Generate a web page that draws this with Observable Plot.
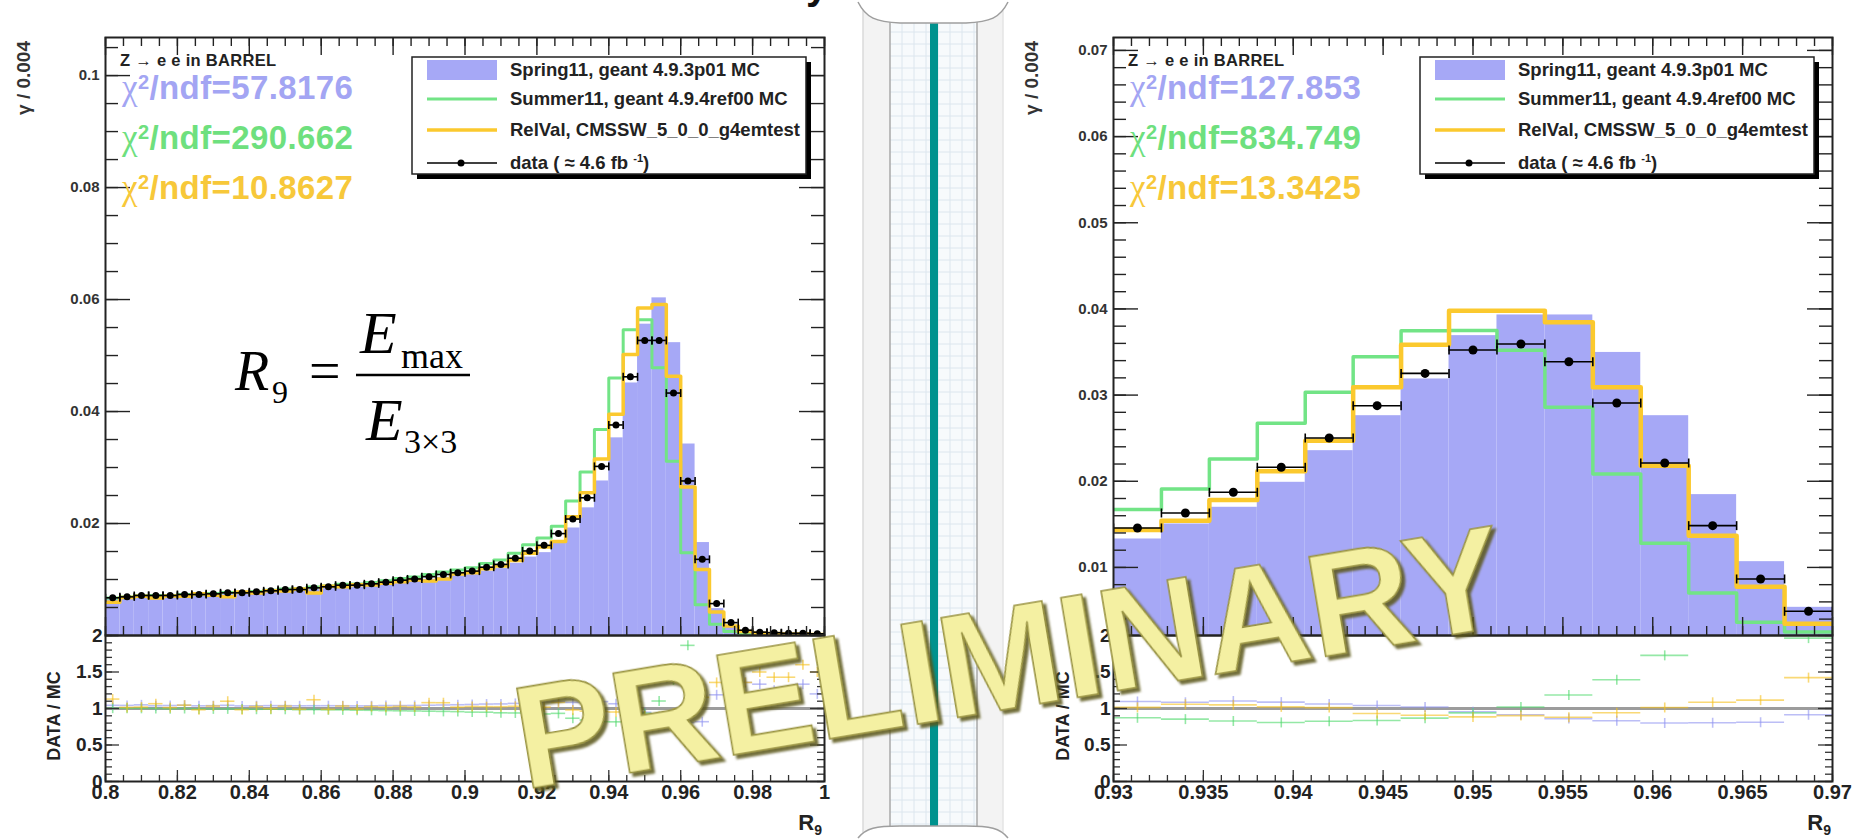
<!DOCTYPE html>
<html>
<head>
<meta charset="utf-8">
<script src="https://cdn.jsdelivr.net/npm/d3@7"></script>
<script src="https://cdn.jsdelivr.net/npm/@observablehq/plot@0.6"></script>
<style>
  html, body { margin: 0; padding: 0; background: #fff; }
  #root { position: relative; width: 1855px; height: 840px; overflow: hidden; background: #fff; }
  #root > svg { position: absolute; }
</style>
</head>
<body>
<div id="root"></div>
<script>
// ---------------- data ----------------
// Left: R9 from 0.8 to 1.0, 50 bins of 0.004
const leftRange = [0.8, 1.0];
const leftData = [0.00673,0.00690,0.00714,0.00714,0.00714,0.00732,0.00732,0.00744,0.00762,0.00762,
  0.00780,0.00798,0.00821,0.00821,0.00851,0.00870,0.00899,0.00899,0.00923,0.00952,
  0.00988,0.01010,0.01050,0.01090,0.01120,0.01150,0.01220,0.01270,0.01380,0.01510,
  0.01610,0.01820,0.02080,0.02460,0.03020,0.03760,0.04620,0.05270,0.05270,0.04330,
  0.02760,0.01360,0.00570,0.00230,0.00095,0.00060,0.00050,0.00040,0.00040,0.00030];
const leftSpring = [0.00645,0.00662,0.00680,0.00688,0.00686,0.00700,0.00706,0.00716,0.00730,0.00736,
  0.00752,0.00768,0.00790,0.00792,0.00820,0.00838,0.00866,0.00868,0.00890,0.00915,
  0.00950,0.00970,0.01005,0.01040,0.01065,0.01090,0.01150,0.01195,0.01290,0.01400,
  0.01480,0.01660,0.01920,0.02280,0.02760,0.03530,0.04510,0.05560,0.06030,0.05230,
  0.03420,0.01660,0.00480,0.00150,0.00070,0.00045,0.00040,0.00035,0.00030,0.00025];
const leftSummer = [0.00670,0.00688,0.00712,0.00714,0.00716,0.00732,0.00736,0.00748,0.00766,0.00768,
  0.00788,0.00806,0.00830,0.00834,0.00864,0.00886,0.00916,0.00920,0.00946,0.00980,
  0.01020,0.01045,0.01090,0.01135,0.01170,0.01210,0.01285,0.01350,0.01470,0.01620,
  0.01740,0.01950,0.02400,0.02920,0.03680,0.04600,0.05460,0.05640,0.04780,0.03110,
  0.01480,0.00550,0.00200,0.00070,0.00030,0.00020,0.00015,0.00012,0.00010,0.00008];
const leftRelval = [0.00596,0.00680,0.00700,0.00670,0.00705,0.00700,0.00745,0.00720,0.00693,0.00775,
  0.00760,0.00800,0.00795,0.00830,0.00760,0.00880,0.00870,0.00905,0.00900,0.00935,
  0.00960,0.00990,0.00972,0.01010,0.01100,0.01120,0.01190,0.01240,0.01340,0.01470,
  0.01580,0.01680,0.02120,0.02550,0.03150,0.03950,0.05020,0.05850,0.05910,0.04630,
  0.02650,0.01180,0.00420,0.00170,0.00070,0.00040,0.00035,0.00028,0.00025,0.00020];

// Right: R9 from 0.93 to 0.97, 15 bins
const rightRange = [0.93, 0.97];
const rightData   = [0.01458,0.01632,0.01872,0.02162,0.02502,0.02877,0.03252,0.03523,0.03593,0.03387,0.02908,0.02212,0.01485,0.00866,0.00491];
const rightSpring = [0.01330,0.01504,0.01698,0.01988,0.02355,0.02761,0.03187,0.03690,0.03930,0.03930,0.03495,0.02761,0.01845,0.01067,0.00537];
const rightSummer = [0.01671,0.01910,0.02258,0.02672,0.03032,0.03445,0.03747,0.03750,0.03520,0.02858,0.02085,0.01280,0.00704,0.00363,0.00250];
const rightRelval = [0.01435,0.01543,0.01783,0.02115,0.02471,0.03090,0.03585,0.03980,0.03980,0.03844,0.03090,0.02181,0.01369,0.00777,0.00345];

const legendLabels = ["Spring11, geant 4.9.3p01 MC", "Summer11, geant 4.9.4ref00 MC", "RelVal, CMSSW_5_0_0_g4emtest", "data ( \u2248 4.6 fb"];
const chi2Left  = ["57.8176", "290.662", "10.8627"];
const chi2Right = ["127.853", "834.749", "13.3425"];
const channelText = "Z \u2192 e e in BARREL";
const yTitle = "\u03B3 / 0.004";
const ratioTitle = "DATA / MC";
const watermarkText = "PRELIMINARY";
const headerFragment = "ying";

const leftYTicks  = [0.02, 0.04, 0.06, 0.08, 0.1];
const leftXTicks  = [0.8, 0.82, 0.84, 0.86, 0.88, 0.9, 0.92, 0.94, 0.96, 0.98, 1];
const rightYTicks = [0.01, 0.02, 0.03, 0.04, 0.05, 0.06, 0.07];
const rightXTicks = [0.93, 0.935, 0.94, 0.945, 0.95, 0.955, 0.96, 0.965, 0.97];
const ratioYTicks = [0, 0.5, 1, 1.5, 2];

// ---------------- helpers ----------------
const FONT = "'Liberation Sans', Arial, Helvetica, sans-serif";
const COL = {blue: "#a6a8f6", green: "#72e486", orange: "#fbc92e"};
const TXT = {blue: "#a3a5f3", green: "#6ee07e", orange: "#f7c83a"};
const vbar = {draw(ctx, size) { const r = Math.sqrt(size / Math.PI); ctx.moveTo(0, -r); ctx.lineTo(0, r); }};
const fmt = d => String(+d.toFixed(4));
const evenTicks = (a, b, step) => d3.range(Math.round((b - a) / step) + 1).map(i => +(a + i * step).toFixed(6));
const inDom = (arr, dom) => arr.filter(v => v >= dom[0] - 1e-9 && v <= dom[1] + 1e-9);

function binsOf(range, vals) {
  const w = (range[1] - range[0]) / vals.length;
  return vals.map((v, i) => ({x1: range[0] + i * w, x2: range[0] + (i + 1) * w, xc: range[0] + (i + 0.5) * w, v}));
}
function stepsOf(range, vals) {
  const w = (range[1] - range[0]) / vals.length;
  const pts = vals.map((v, i) => ({x: range[0] + i * w, y: v}));
  pts.push({x: range[1], y: vals[vals.length - 1]});
  return pts;
}
const plotStyle = {background: "transparent", overflow: "visible", fontFamily: FONT, color: "#222", maxWidth: "none"};

function upperPanel(o) {
  const pw = o.width - o.mL - o.mR, ph = o.height - o.mT - o.mB;
  const D = binsOf(o.range, o.data);
  const tk = {stroke: "#222", strokeWidth: 1.4};
  return Plot.plot({
    width: o.width, height: o.height,
    marginLeft: o.mL, marginRight: o.mR, marginTop: o.mT, marginBottom: o.mB,
    x: {domain: o.range, axis: null},
    y: {domain: o.yDomain},
    style: plotStyle,
    marks: [
      Plot.rect(binsOf(o.range, o.spring), {x1: "x1", x2: "x2", y1: o.yDomain[0], y2: "v", fill: COL.blue, clip: true}),
      Plot.line(stepsOf(o.range, o.summer), {x: "x", y: "y", curve: "step-after", stroke: COL.green, strokeWidth: o.lwG, clip: true}),
      Plot.line(stepsOf(o.range, o.relval), {x: "x", y: "y", curve: "step-after", stroke: COL.orange, strokeWidth: o.lwO, clip: true}),
      Plot.ruleY(D, {x1: "x1", x2: "x2", y: "v", stroke: "#000", strokeWidth: 1.6, clip: true}),
      Plot.dot(D, {x: "x1", y: "v", symbol: vbar, r: o.capR, stroke: "#000", strokeWidth: 1.6, fill: "none", clip: true}),
      Plot.dot(D, {x: "x2", y: "v", symbol: vbar, r: o.capR, stroke: "#000", strokeWidth: 1.6, fill: "none", clip: true}),
      Plot.dot(D, {x: "xc", y: "v", r: o.dotR, fill: "#000", stroke: "none", clip: true}),
      Plot.tickX(o.xMinor, {x: d => d, insetTop: ph - 9, ...tk}),
      Plot.tickX(o.xMajor, {x: d => d, insetTop: ph - 18, ...tk}),
      Plot.tickX(o.xMinor, {x: d => d, insetBottom: ph - 9, ...tk}),
      Plot.tickX(o.xMajor, {x: d => d, insetBottom: ph - 18, ...tk}),
      Plot.tickY(o.yMinor, {y: d => d, insetRight: pw - 13, ...tk}),
      Plot.tickY(o.yMajor, {y: d => d, insetRight: pw - 25, ...tk}),
      Plot.tickY(o.yMinor, {y: d => d, insetLeft: pw - 13, ...tk}),
      Plot.tickY(o.yMajor, {y: d => d, insetLeft: pw - 25, ...tk}),
      Plot.axisY(o.yMajor, {anchor: "left", tickSize: 0, tickPadding: 6, tickFormat: fmt, fontSize: 15, fontWeight: "bold", fill: "#333", label: null}),
      Plot.frame({stroke: "#222", strokeWidth: 2})
    ]
  });
}

function ratioPanel(o) {
  const pw = o.width - o.mL - o.mR, ph = o.height - o.mT - o.mB;
  const tk = {stroke: "#333", strokeWidth: 1.3};
  const marks = [Plot.ruleY([1], {stroke: "#9c9c9c", strokeWidth: 3})];
  o.series.forEach(s => {
    const R = binsOf(o.range, o.data.map((d, i) => d / s.vals[i]));
    marks.push(Plot.ruleY(R, {x1: "x1", x2: "x2", y: "v", stroke: s.color, strokeWidth: 1.6, strokeOpacity: 0.6, clip: true}));
    marks.push(Plot.dot(R, {x: "xc", y: "v", symbol: vbar, r: o.crossR, stroke: s.color, strokeWidth: 1.6, strokeOpacity: 0.6, fill: "none", clip: true}));
  });
  const yMinor = evenTicks(0, 2, 0.1);
  marks.push(
    Plot.tickX(o.xMinor, {x: d => d, insetTop: ph - 6, ...tk}),
    Plot.tickX(o.xMajor, {x: d => d, insetTop: ph - 11, ...tk}),
    Plot.tickY(yMinor, {y: d => d, insetRight: pw - 7, ...tk}),
    Plot.tickY(ratioYTicks, {y: d => d, insetRight: pw - 14, ...tk}),
    Plot.tickY(yMinor, {y: d => d, insetLeft: pw - 7, ...tk}),
    Plot.tickY(ratioYTicks, {y: d => d, insetLeft: pw - 14, ...tk}),
    Plot.axisY(ratioYTicks, {anchor: "left", tickSize: 0, tickPadding: 3, tickFormat: fmt, fontSize: 19, fontWeight: "bold", fill: "#222", label: null}),
    Plot.axisX(o.xMajor, {anchor: "bottom", tickSize: 0, tickPadding: 3, tickFormat: fmt, fontSize: 20, fontWeight: "bold", fill: "#222", label: null}),
    Plot.frame({stroke: "#222", strokeWidth: 2})
  );
  return Plot.plot({
    width: o.width, height: o.height,
    marginLeft: o.mL, marginRight: o.mR, marginTop: o.mT, marginBottom: o.mB,
    x: {domain: o.range}, y: {domain: [0, 2]},
    style: plotStyle,
    marks
  });
}

const root = document.getElementById("root");
function place(node, left, top) { node.style.left = left + "px"; node.style.top = top + "px"; root.appendChild(node); }

// ---------------- panels ----------------
const leftYDom = [0, 0.1068];
place(upperPanel({
  width: 830, height: 640, mL: 105, mR: 6, mT: 37, mB: 5,
  range: leftRange, yDomain: leftYDom,
  data: leftData, spring: leftSpring, summer: leftSummer, relval: leftRelval,
  xMajor: leftXTicks, xMinor: evenTicks(0.8, 1.0, 0.005),
  yMajor: leftYTicks, yMinor: inDom(evenTicks(0, 0.105, 0.005), leftYDom),
  lwG: 3, lwO: 3.5, dotR: 3.5, capR: 4
}), 0, 0);

const rightYDom = [0.0021, 0.0715];
place(upperPanel({
  width: 840, height: 640, mL: 113, mR: 8, mT: 37, mB: 5,
  range: rightRange, yDomain: rightYDom,
  data: rightData, spring: rightSpring, summer: rightSummer, relval: rightRelval,
  xMajor: rightXTicks, xMinor: evenTicks(0.93, 0.97, 0.001),
  yMajor: rightYTicks, yMinor: inDom(evenTicks(0, 0.072, 0.002), rightYDom),
  lwG: 3.5, lwO: 4.5, dotR: 4.5, capR: 4.5
}), 1000, 0);

const mcSeries = (a, b, c) => [{vals: a, color: "#8f93f0"}, {vals: b, color: "#4fd86a"}, {vals: c, color: "#f5bf1a"}];
place(ratioPanel({
  width: 830, height: 200, mL: 105, mR: 6, mT: 0, mB: 54,
  range: leftRange, data: leftData, series: mcSeries(leftSpring, leftSummer, leftRelval),
  xMajor: leftXTicks, xMinor: evenTicks(0.8, 1.0, 0.005), crossR: 5
}), 0, 635);
place(ratioPanel({
  width: 840, height: 200, mL: 113, mR: 8, mT: 0, mB: 54,
  range: rightRange, data: rightData, series: mcSeries(rightSpring, rightSummer, rightRelval),
  xMajor: rightXTicks, xMinor: evenTicks(0.93, 0.97, 0.001), crossR: 5
}), 1000, 635);

// ---------------- overlay: binding, labels, legends, watermark ----------------
const ov = d3.create("svg").attr("width", 1855).attr("height", 840)
  .style("left", "0px").style("top", "0px").style("pointer-events", "none")
  .attr("font-family", FONT);
const defs = ov.append("defs");
const f = defs.append("filter").attr("id", "wm").attr("x", "-10%").attr("y", "-10%").attr("width", "120%").attr("height", "130%");
f.append("feDropShadow").attr("dx", 3).attr("dy", 4).attr("stdDeviation", 1.3).attr("flood-color", "#5a5616").attr("flood-opacity", 0.85);

// cut-off header fragment at the very top (only its descenders are on the page)
ov.append("text").attr("x", 806).attr("y", -1).attr("font-size", 40).attr("font-weight", "bold").attr("fill", "#111").text(headerFragment);

// notebook binding between the two figures
const bg = ov.append("g");
bg.append("rect").attr("x", 863).attr("y", 0).attr("width", 140).attr("height", 840).attr("fill", "#f3f3f3");
bg.append("rect").attr("x", 890).attr("y", 0).attr("width", 87).attr("height", 840).attr("fill", "#f7fafc");
for (let x = 902; x < 977; x += 12) bg.append("line").attr("x1", x).attr("x2", x).attr("y1", 0).attr("y2", 840).attr("stroke", "#dce6ee").attr("stroke-width", 1);
for (let y = 8; y < 840; y += 12) bg.append("line").attr("x1", 890).attr("x2", 977).attr("y1", y).attr("y2", y).attr("stroke", "#dce6ee").attr("stroke-width", 1);
[[863, "#dadada", 1.5], [890, "#a8a8a8", 1.5], [977, "#a8a8a8", 1.5], [1003, "#e4e4e4", 1.5]].forEach(([x, c, w]) =>
  bg.append("line").attr("x1", x).attr("x2", x).attr("y1", 0).attr("y2", 840).attr("stroke", c).attr("stroke-width", w));
bg.append("rect").attr("x", 930).attr("y", 6).attr("width", 8).attr("height", 834).attr("fill", "#00928e");
bg.append("path").attr("d", "M858,0 L1008,0 L1008,2 C1000,18 990,22 966,23 L900,23 C876,22 866,18 858,2 Z").attr("fill", "#fff");
bg.append("path").attr("d", "M858,2 C866,18 876,22 900,23 L966,23 C990,22 1000,18 1008,2").attr("fill", "none").attr("stroke", "#9e9e9e").attr("stroke-width", 1.5);
bg.append("path").attr("d", "M858,840 L1008,840 L1008,838 C1000,828 990,826 966,826 L900,826 C876,826 866,828 858,838 Z").attr("fill", "#fff");
bg.append("path").attr("d", "M858,838 C866,828 876,826 900,826 L966,826 C990,826 1000,828 1008,838").attr("fill", "none").attr("stroke", "#9e9e9e").attr("stroke-width", 1.5);

function panelTexts(fx, yTitleX, ratioTitleX, chi2, legendX, r9X) {
  // y titles
  ov.append("text").attr("transform", `translate(${yTitleX},78) rotate(-90)`).attr("text-anchor", "middle").attr("dominant-baseline", "central")
    .attr("font-size", 19).attr("font-weight", "bold").attr("fill", "#333").text(yTitle);
  ov.append("text").attr("transform", `translate(${ratioTitleX},716) rotate(-90)`).attr("text-anchor", "middle").attr("dominant-baseline", "central")
    .attr("font-size", 18).attr("font-weight", "bold").attr("fill", "#222").text(ratioTitle);
  // R9 axis title
  const r9 = ov.append("text").attr("x", r9X).attr("y", 830).attr("text-anchor", "end").attr("font-size", 22).attr("font-weight", "bold").attr("fill", "#222");
  r9.append("tspan").text("R");
  r9.append("tspan").attr("font-size", 14).attr("dy", 5).text("9");
  // channel label
  ov.append("text").attr("x", fx + 15).attr("y", 66).attr("font-size", 16.5).attr("font-weight", "bold").attr("letter-spacing", 0.3).attr("fill", "#222").text(channelText);
  // chi2 lines
  [TXT.blue, TXT.green, TXT.orange].forEach((c, i) => {
    const t = ov.append("text").attr("x", fx + 17).attr("y", 99 + 50 * i).attr("font-size", 33).attr("font-weight", "bold").attr("letter-spacing", 0.4).attr("fill", c);
    t.append("tspan").attr("font-family", "'Liberation Serif', serif").attr("font-weight", "normal").attr("font-size", 35).text("\u03C7");
    t.append("tspan").attr("font-size", 20).attr("dy", -10).text("2");
    t.append("tspan").attr("dy", 10).text("/ndf=" + chi2[i]);
  });
  // legend box
  const lg = ov.append("g").attr("transform", `translate(${legendX},57)`);
  lg.append("rect").attr("x", 5).attr("y", 5).attr("width", 394).attr("height", 117).attr("fill", "#000");
  lg.append("rect").attr("x", 0).attr("y", 0).attr("width", 394).attr("height", 117).attr("fill", "#fff").attr("stroke", "#222").attr("stroke-width", 1.5);
  lg.append("rect").attr("x", 15).attr("y", 3).attr("width", 70).attr("height", 20).attr("fill", COL.blue);
  lg.append("line").attr("x1", 15).attr("x2", 85).attr("y1", 42).attr("y2", 42).attr("stroke", COL.green).attr("stroke-width", 3);
  lg.append("line").attr("x1", 15).attr("x2", 85).attr("y1", 73).attr("y2", 73).attr("stroke", COL.orange).attr("stroke-width", 3.5);
  lg.append("line").attr("x1", 15).attr("x2", 85).attr("y1", 106).attr("y2", 106).attr("stroke", "#000").attr("stroke-width", 1.5);
  lg.append("circle").attr("cx", 49).attr("cy", 106).attr("r", 3.5).attr("fill", "#000");
  [13, 42, 73].forEach((y, i) => lg.append("text").attr("x", 98).attr("y", y + 6).attr("font-size", 18.5).attr("font-weight", "bold").attr("fill", "#222").text(legendLabels[i]));
  const dt = lg.append("text").attr("x", 98).attr("y", 112).attr("font-size", 18.5).attr("font-weight", "bold").attr("fill", "#222");
  dt.append("tspan").text(legendLabels[3] + " ");
  dt.append("tspan").attr("font-size", 11).attr("dy", -7).text("-1");
  dt.append("tspan").attr("dy", 7).text(")");
}
panelTexts(105, 23, 54, chi2Left, 412, 822);
panelTexts(1113, 1031, 1063, chi2Right, 1420, 1831);

// R9 definition
const fm = ov.append("g").attr("font-family", "'Liberation Serif', 'Times New Roman', serif").attr("fill", "#000");
fm.append("text").attr("x", 235).attr("y", 390).attr("font-size", 56).attr("font-style", "italic").text("R");
fm.append("text").attr("x", 272).attr("y", 403).attr("font-size", 32).text("9");
fm.append("text").attr("x", 309).attr("y", 390).attr("font-size", 56).text("=");
fm.append("line").attr("x1", 356).attr("x2", 470).attr("y1", 375).attr("y2", 375).attr("stroke", "#000").attr("stroke-width", 2.5);
fm.append("text").attr("x", 360).attr("y", 353).attr("font-size", 60).attr("font-style", "italic").text("E");
fm.append("text").attr("x", 401).attr("y", 368).attr("font-size", 36).text("max");
fm.append("text").attr("x", 366).attr("y", 440).attr("font-size", 60).attr("font-style", "italic").text("E");
fm.append("text").attr("x", 404).attr("y", 453).attr("font-size", 34).text("3\u00D73");

// PRELIMINARY watermark
ov.append("text").attr("x", 524).attr("y", 790).attr("transform", "rotate(-9.5 524 790)")
  .attr("font-size", 146).attr("font-weight", "bold").attr("fill", "#f4f0a2").attr("stroke", "#9a9442").attr("stroke-width", 1.6)
  .attr("filter", "url(#wm)").text(watermarkText);

root.appendChild(ov.node());
</script>
</body>
</html>
